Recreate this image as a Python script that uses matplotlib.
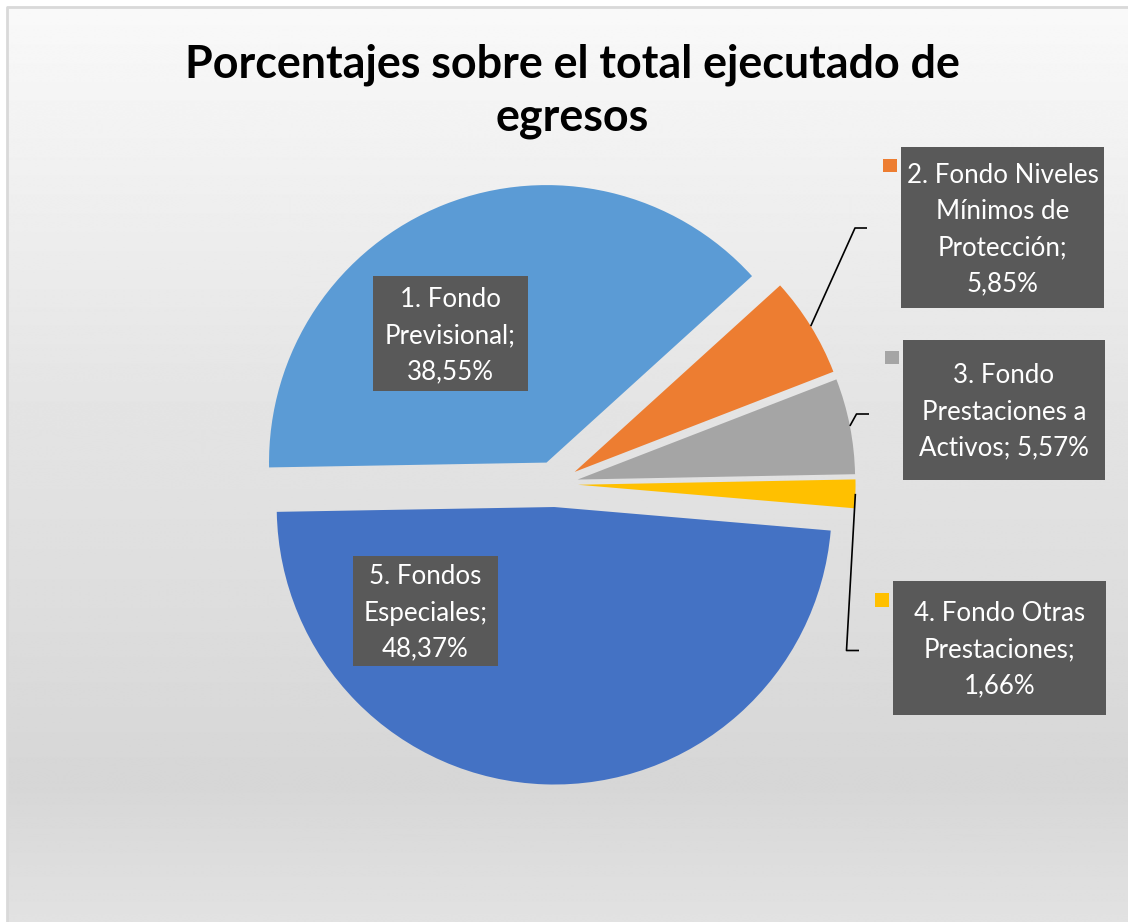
import textwrap
import numpy as np
import matplotlib
matplotlib.use("Agg")
import matplotlib.pyplot as plt
from matplotlib.patches import Rectangle

categories = [
    "1. Fondo Previsional",
    "2. Fondo Niveles Mínimos de Protección",
    "3. Fondo Prestaciones a Activos",
    "4. Fondo Otras Prestaciones",
    "5. Fondos Especiales",
]
shares = [38.55, 5.85, 5.57, 1.66, 48.37]
colors = ["#5B9BD5", "#ED7D31", "#A5A5A5", "#FFC000", "#4472C4"]
title = "Porcentajes sobre el total ejecutado de\negresos"

W, H = 1128, 922
plt.rcParams["font.family"] = ["Lato", "DejaVu Sans"]


def py(p):
    # pixel row (from top) -> data y
    return H - p


fig = plt.figure(figsize=(W / 100, H / 100), dpi=100)
ax = fig.add_axes([0, 0, 1, 1])

# background: light vertical gradient inside a thin frame
rows = np.arange(H)
shade = np.interp(rows, [8, 400, 600, 780, 922], [0.975, 0.894, 0.868, 0.840, 0.886])
grad = np.repeat(shade[:, None], 2, axis=1)
ax.imshow(grad, cmap="gray", vmin=0, vmax=1, extent=(7, W, 0, py(7)),
          aspect="auto", zorder=0, interpolation="bilinear")
ax.plot([7, 7, W], [0, py(7), py(7)], color="#d9d9d9", lw=2, zorder=1)

# pie (explode offset is in data units, so scale by the radius)
radius = 277.5
wedges, _ = ax.pie(shares, colors=colors, startangle=181, counterclock=False,
                   explode=[0.083 * radius] * len(shares), radius=radius,
                   center=(555, py(484)), frame=True,
                   wedgeprops=dict(linewidth=0, zorder=2))

# label boxes (left, top, width, height in pixels) and wrap widths
boxes = [(373, 276, 155, 115), (901, 147, 203, 161), (903, 340, 202, 140),
         (893, 581, 213, 134), (353, 556, 145, 110)]
wraps = [12, 16, 14, 14, 11]
for i, (name, val) in enumerate(zip(categories, shares)):
    txt = textwrap.fill(name + "; " + f"{val:.2f}".replace(".", ",") + "%", wraps[i])
    x0, y0, bw, bh = boxes[i]
    ax.add_patch(Rectangle((x0, py(y0 + bh)), bw, bh, facecolor="#595959",
                           edgecolor="none", zorder=4))
    ax.text(x0 + bw / 2, py(y0 + bh / 2 + 2), txt, ha="center", va="center",
            color="white", fontsize=18.6, linespacing=1.56, zorder=5)

# legend keys next to the outside labels
keys = {1: (883, 159), 2: (885, 351), 3: (875, 593)}
for i, (kx, ky) in keys.items():
    ax.add_patch(Rectangle((kx, py(ky + 13.5)), 13.5, 13.5, facecolor=colors[i],
                           edgecolor="none", zorder=4))

# leader lines from slice edge to labels
elbows = {1: ((855, 228), 867), 2: ((856.5, 414), 869), 3: ((846.5, 650.5), 859)}
for i, ((ex, ey), endx) in elbows.items():
    w = wedges[i]
    mid = np.deg2rad((w.theta1 + w.theta2) / 2)
    sx = w.center[0] + w.r * np.cos(mid)
    sy = w.center[1] + w.r * np.sin(mid)
    ax.plot([sx, ex, endx], [sy, py(ey), py(ey)], color="black", lw=1.2,
            zorder=3, solid_capstyle="butt")

ax.text(572, py(44), title, ha="center", va="top", fontsize=32.3,
        fontweight="bold", color="black", linespacing=1.3, zorder=5)

ax.set_xlim(0, W)
ax.set_ylim(0, H)
ax.set_aspect("auto")
ax.axis("off")

fig.savefig("out.png", dpi=100, facecolor="white")
